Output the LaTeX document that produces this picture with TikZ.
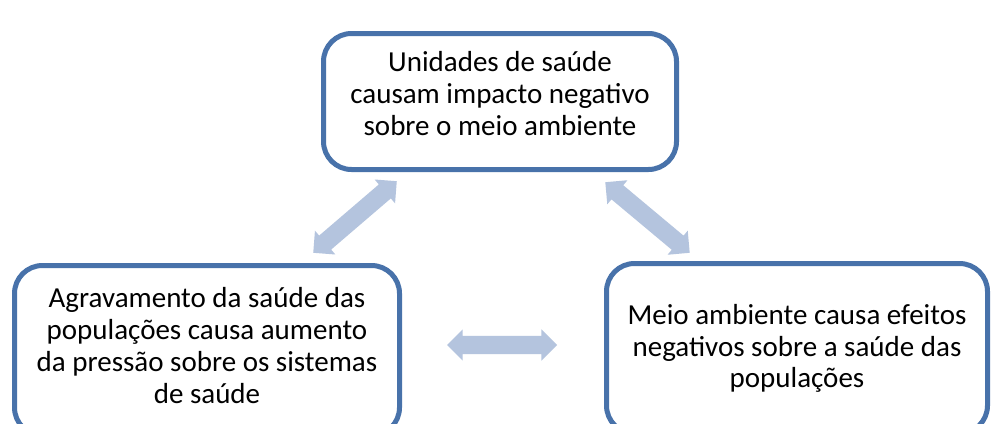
\documentclass[tikz,border=0pt]{standalone}
\usepackage{fontspec}
\setmainfont{Carlito}
\usetikzlibrary{shapes.arrows}
\definecolor{boxblue}{RGB}{72,114,170}
\definecolor{arrowblue}{RGB}{180,196,222}
\begin{document}
\begin{tikzpicture}[x=1pt,y=-1pt,
  box/.style={draw=boxblue, line width=5pt, rounded corners=28pt, fill=white, inner sep=0pt},
  txt/.style={align=center, font=\fontsize{29}{31.7}\selectfont, text=black, inner sep=0pt},
  dbl/.style={double arrow, fill=arrowblue, draw=none, minimum height=110pt, inner xsep=0pt, inner ysep=9pt, double arrow head extend=6.5pt}]
\path[clip] (0,0) rectangle (995,423);
\fill[white] (0,0) rectangle (995,423);
\node[box, minimum width=353pt, minimum height=136pt] (top) at (500,101.5) {};
\node[txt] (toptext) at (500,93.5) {Unidades de saúde\\causam impacto negativo\\sobre o meio ambiente};
\node[box, minimum width=385pt, minimum height=170pt] (left) at (207,350.5) {};
\node[txt] (lefttext) at (207,345.5) {Agravamento da saúde das\\populações causa aumento\\da pressão sobre os sistemas\\de saúde};
\node[box, minimum width=381pt, minimum height=170pt] (right) at (797,348.5) {};
\node[txt] (righttext) at (797,348.5) {Meio ambiente causa efeitos\\negativos sobre a saúde das\\populações};
\node[dbl, rotate=40.6] (a1) at (355,217) {};
\node[dbl, rotate=-39.9] (a2) at (647.5,217.5) {};
\node[dbl] (a3) at (502,345) {};
\end{tikzpicture}
\end{document}
